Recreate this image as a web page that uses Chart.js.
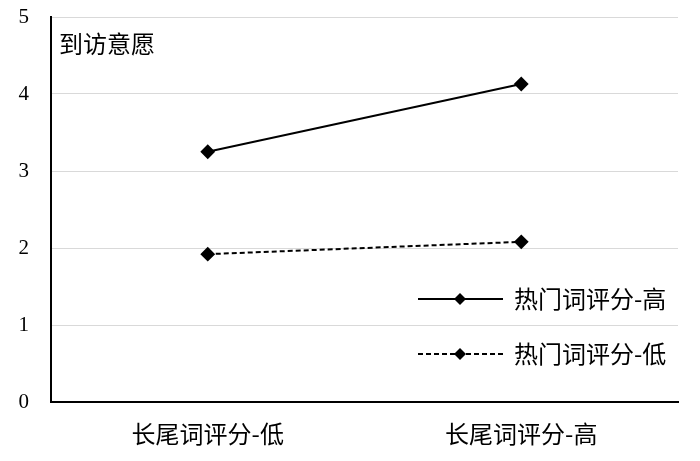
<!DOCTYPE html>
<html>
<head>
<meta charset="utf-8">
<script src="https://cdn.jsdelivr.net/npm/chart.js@4/dist/chart.umd.min.js"></script>
<style>
  html, body { margin: 0; padding: 0; background: #fff; }
  #wrap { width: 700px; height: 461px; }
</style>
</head>
<body>
<div id="wrap"><canvas id="c"></canvas></div>
<script>
const categories = ["长尾词评分-低", "长尾词评分-高"];
const seriesNames = ["热门词评分-高", "热门词评分-低"];
const hotHigh = [3.25, 4.13];
const hotLow = [1.92, 2.08];
const yTicks = [0, 1, 2, 3, 4, 5];
const yTitle = "到访意愿";

const cjk = '"Noto Sans CJK SC", "Noto Sans", sans-serif';
const serif = '"Liberation Serif", "DejaVu Serif", serif';

// y-axis title sits inside the plot, top left
const yTitlePlugin = {
    id: "yTitleInside",
    afterDatasetsDraw(chart) {
        const { ctx, chartArea } = chart;
        ctx.save();
        ctx.fillStyle = "#000";
        ctx.font = "24px " + cjk;
        ctx.textAlign = "left";
        ctx.textBaseline = "middle";
        ctx.fillText(yTitle, chartArea.left + 8, chartArea.top + 27);
        ctx.restore();
    }
};

// legend drawn in the lower right corner of the plot
const legendPlugin = {
    id: "legendInside",
    afterDatasetsDraw(chart) {
        const { ctx } = chart;
        const rows = [299, 354];
        ctx.save();
        chart.data.datasets.forEach((ds, i) => {
            const y = rows[i];
            const x0 = 418, x1 = 503, xm = 460;
            ctx.strokeStyle = "#000";
            ctx.lineWidth = 2;
            ctx.setLineDash(ds.borderDash || []);
            ctx.beginPath();
            ctx.moveTo(x0, y);
            ctx.lineTo(x1, y);
            ctx.stroke();
            ctx.setLineDash([]);
            ctx.fillStyle = "#000";
            ctx.beginPath();
            ctx.moveTo(xm, y - 6);
            ctx.lineTo(xm + 6, y);
            ctx.lineTo(xm, y + 6);
            ctx.lineTo(xm - 6, y);
            ctx.closePath();
            ctx.fill();
            ctx.font = "24px " + cjk;
            ctx.textAlign = "left";
            ctx.textBaseline = "middle";
            ctx.fillText(ds.label, 514, y);
        });
        ctx.restore();
    }
};

new Chart(document.getElementById("c"), {
    type: "line",
    data: {
        labels: categories,
        datasets: [{
            label: seriesNames[0],
            data: hotHigh,
            borderColor: "#000",
            backgroundColor: "#000",
            borderWidth: 2,
            pointStyle: "rectRot",
            pointRadius: 6,
            pointHoverRadius: 6
        }, {
            label: seriesNames[1],
            data: hotLow,
            borderColor: "#000",
            backgroundColor: "#000",
            borderWidth: 2,
            borderDash: [5, 3],
            pointStyle: "rectRot",
            pointRadius: 6,
            pointHoverRadius: 6
        }]
    },
    options: {
        responsive: true,
        maintainAspectRatio: false,
        animation: false,
        layout: { padding: { top: 17, right: 22, left: 0, bottom: 0 } },
        plugins: {
            legend: { display: false },
            tooltip: { enabled: false }
        },
        scales: {
            x: {
                offset: true,
                grid: { display: false, drawTicks: false },
                border: { color: "#000", width: 2 },
                ticks: { color: "#000", font: { family: cjk, size: 24 }, padding: 17 },
                afterFit(scale) { scale.height = 59; }
            },
            y: {
                min: 0,
                max: 5,
                afterBuildTicks(scale) { scale.ticks = yTicks.map(v => ({ value: v })); },
                grid: { color: "#d9d9d9", lineWidth: 1, drawTicks: false },
                border: { color: "#000", width: 2 },
                ticks: { color: "#000", font: { family: serif, size: 21 }, padding: 22 },
                afterFit(scale) {
                    scale.width = 51;
                    scale.paddingTop = 0;
                    scale.paddingBottom = 0;
                }
            }
        }
    },
    plugins: [yTitlePlugin, legendPlugin]
});
</script>
</body>
</html>
